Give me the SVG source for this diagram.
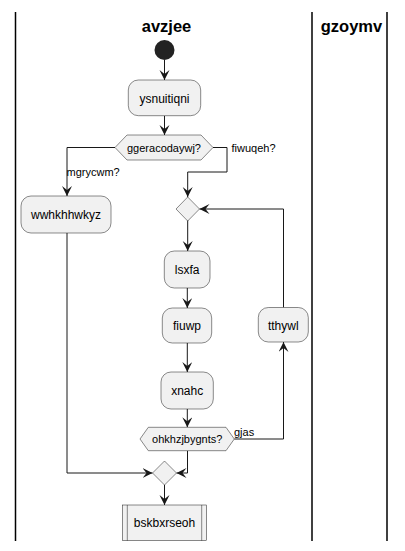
<svg xmlns="http://www.w3.org/2000/svg" width="405" height="551" viewBox="0 0 405 551">
<style>
.lane{stroke:#000;stroke-width:1.5;fill:none}
.title{font-family:"Liberation Sans",Arial,sans-serif;font-weight:bold;font-size:16.5px;fill:#000;text-anchor:middle}
.box{fill:#F1F1F1;stroke:#181818;stroke-width:0.5}
.t{font-family:"Liberation Sans",Arial,sans-serif;font-size:12px;fill:#000;text-anchor:middle}
.d{font-family:"Liberation Sans",Arial,sans-serif;font-size:11px;fill:#000;text-anchor:middle}
.lbl{font-family:"Liberation Sans",Arial,sans-serif;font-size:11px;fill:#000}
.c{fill:none;stroke:#181818;stroke-width:1}
</style>
<defs>
<marker id="ah" markerUnits="userSpaceOnUse" markerWidth="12" markerHeight="12" refX="10" refY="5" orient="auto">
<path d="M0,0 L10,5 L0,10 L4,5 Z" fill="#181818"/>
</marker>
</defs>
<rect width="405" height="551" fill="#fff"/>
<g id="lanes">
<line class="lane" x1="15.5" y1="12" x2="15.5" y2="541"/>
<line class="lane" x1="312" y1="12" x2="312" y2="541"/>
<line class="lane" x1="387" y1="12" x2="387" y2="541"/>
<text class="title" x="166.5" y="31.5">avzjee</text>
<text class="title" x="351.5" y="31.5">gzoymv</text>
</g>
<g id="connectors">
<path class="c" d="M164.5,60 L164.5,80" marker-end="url(#ah)"/>
<path class="c" d="M164.5,115.7 L164.5,135" marker-end="url(#ah)"/>
<path class="c" d="M115,147.5 L67,147.5 L67,196" marker-end="url(#ah)"/>
<path class="c" d="M213,147.5 L227,147.5 L227,172 L187.7,172 L187.7,197" marker-end="url(#ah)"/>
<path class="c" d="M187.7,220 L187.7,251" marker-end="url(#ah)"/>
<path class="c" d="M187.3,288 L187.3,308" marker-end="url(#ah)"/>
<path class="c" d="M187.3,343 L187.3,372" marker-end="url(#ah)"/>
<path class="c" d="M187.3,409 L187.3,427.3" marker-end="url(#ah)"/>
<path class="c" d="M234.3,439 L283.5,439 L283.5,342" marker-end="url(#ah)"/>
<path class="c" d="M283.5,307.5 L283.5,209 L199.5,209" marker-end="url(#ah)"/>
<path class="c" d="M187.5,450.7 L187.5,473 L176.5,473" marker-end="url(#ah)"/>
<path class="c" d="M67,233 L67,473 L152.5,473" marker-end="url(#ah)"/>
<path class="c" d="M164.5,485 L164.5,505" marker-end="url(#ah)"/>
<text class="lbl" x="66.5" y="176">mgrycwm?</text>
<text class="lbl" x="231.5" y="151.5">fiwuqeh?</text>
<text class="lbl" x="234" y="435.5">gjas</text>
</g>
<g id="start"><circle cx="164.5" cy="50" r="10" fill="#222"/></g>
<g id="ysnuitiqni"><rect class="box" x="128.3" y="80" width="72.4" height="35.7" rx="10"/><text class="t" x="164.5" y="102.5">ysnuitiqni</text></g>
<g id="ggeracodaywj"><polygon class="box" points="115,147.5 127,135 201,135 213,147.5 201,160 127,160"/><text class="d" x="164" y="151.5">ggeracodaywj?</text></g>
<g id="wwhkhhwkyz"><rect class="box" x="21" y="196" width="90" height="37" rx="10"/><text class="t" x="66" y="219">wwhkhhwkyz</text></g>
<g id="merge1"><polygon class="box" points="187.7,197 199.5,209 187.7,221 176,209"/></g>
<g id="lsxfa"><rect class="box" x="164.3" y="251" width="45.7" height="37" rx="10"/><text class="t" x="187.2" y="274">lsxfa</text></g>
<g id="fiuwp"><rect class="box" x="162.3" y="308" width="49.4" height="35" rx="10"/><text class="t" x="187" y="330">fiuwp</text></g>
<g id="xnahc"><rect class="box" x="161" y="372" width="52.3" height="37" rx="10"/><text class="t" x="187.2" y="395">xnahc</text></g>
<g id="tthywl"><rect class="box" x="258.3" y="307.5" width="50" height="34.5" rx="10"/><text class="t" x="283.3" y="329.5">tthywl</text></g>
<g id="ohkhzjbygnts"><polygon class="box" points="140,439 148.3,427.3 226,427.3 234.3,439 226,450.7 148.3,450.7"/><text class="d" x="187.2" y="443">ohkhzjbygnts?</text></g>
<g id="merge2"><polygon class="box" points="164.5,461 176.5,473 164.5,485 152.5,473"/></g>
<g id="bskbxrseoh"><rect class="box" x="122.3" y="505" width="84.4" height="35.7"/><line class="box" x1="127.3" y1="505" x2="127.3" y2="540.7"/><line class="box" x1="201.7" y1="505" x2="201.7" y2="540.7"/><text class="t" x="164.5" y="527">bskbxrseoh</text></g>
</svg>
